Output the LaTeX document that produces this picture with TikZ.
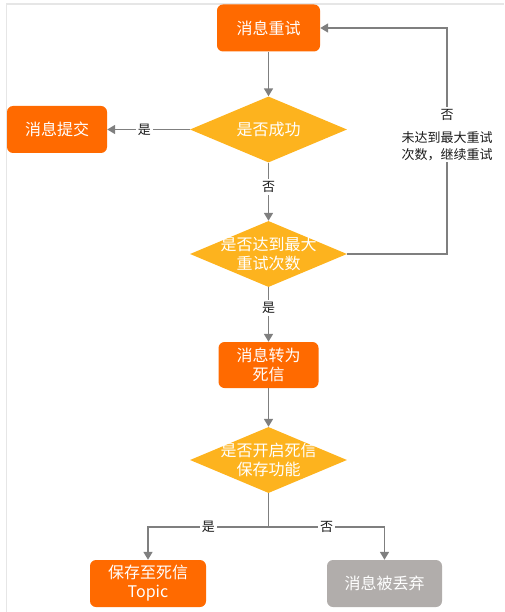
\documentclass[tikz,border=0pt]{standalone}
\usepackage{fontspec}
\setmainfont{Noto Sans CJK SC}
\usetikzlibrary{arrows.meta,shapes.geometric}
\definecolor{ink}{HTML}{1A1A1A}
\definecolor{wire}{HTML}{7F7F7F}
\definecolor{flow}{HTML}{FF6A00}
\definecolor{cond}{HTML}{FDB31E}
\definecolor{lost}{HTML}{B1ADAB}
\definecolor{rim}{HTML}{E6E6E6}
\tikzset{
  box/.style={fill=flow,rounded corners=6pt,minimum width=100pt,minimum height=47pt,inner sep=2pt,align=center,text=white,font=\fontsize{16}{19}\selectfont},
  boxg/.style={box,fill=lost},
  dec/.style={diamond,fill=cond,minimum width=157pt,minimum height=66pt,inner sep=0pt},
  dectxt/.style={align=center,text=white,font=\fontsize{16}{19}\selectfont},
  lbl/.style={fill=white,inner sep=2pt,align=center,text=ink,font=\fontsize{13}{17}\selectfont},
  ar/.style={-{Triangle[length=8pt,width=9pt]},draw=wire,line width=1.6pt},
}
\begin{document}
\begin{tikzpicture}[x=1pt,y=-1pt]
  \useasboundingbox (0,0) rectangle (504,612);
  \draw[rim,line width=1.2pt] (6.5,612) |- (504,4);
  % steps
  \node[box,minimum width=103pt] (retry) at (268.5,28) {消息重试};
  \node[box] (commit) at (57,129.5) {消息提交};
  \node[box,minimum height=46pt] (dead) at (268.5,365) {消息转为\\死信};
  \node[box,minimum width=116pt] (save) at (148,583.5) {保存至死信\\Topic};
  \node[boxg,minimum width=115pt] (drop) at (384.5,583.5) {消息被丢弃};
  % checks
  \node[dec,label={[dectxt]center:是否成功}] (ok) at (268.5,129.5) {};
  \node[dec,label={[dectxt]center:{是否达到最大\\重试次数}}] (max) at (268.5,254) {};
  \node[dec,label={[dectxt]center:{是否开启死信\\保存功能}}] (keep) at (268.5,460) {};
  % flow
  \draw[ar] (retry.south) -- (ok.north);
  \draw[ar] (ok.west) -- node[lbl,pos=.55]{是} (commit.east);
  \draw[ar] (ok.south) -- node[lbl,pos=.42]{否} (max.north);
  \draw[ar] (max.east) -- ++(100,0) |- node[lbl,pos=.264]{否\\[6pt]未达到最大重试\\次数，继续重试} (retry.east);
  \draw[ar] (max.south) -- node[lbl,pos=.38]{是} (dead.north);
  \draw[ar] (dead.south) -- (keep.north);
  \draw[ar] (keep.south) -- ++(0,34) -| node[lbl,pos=.25]{是} (save.north);
  \draw[ar] (keep.south) -- ++(0,34) -| node[lbl,pos=.25]{否} (drop.north);
\end{tikzpicture}
\end{document}
